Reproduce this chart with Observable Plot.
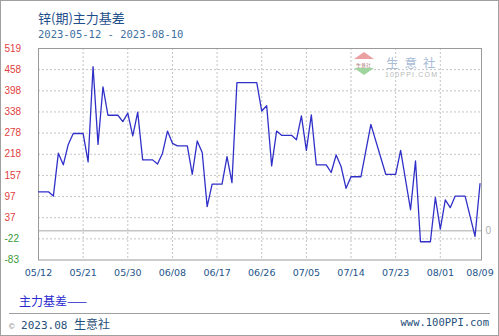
<!DOCTYPE html>
<html>
<head>
<meta charset="utf-8">
<script src="https://cdn.jsdelivr.net/npm/d3@7"></script>
<script src="https://cdn.jsdelivr.net/npm/@observablehq/plot@0.6"></script>
<style>
  html, body { margin: 0; padding: 0; background: #fff; }
  #wrap { position: relative; width: 499px; height: 336px; overflow: hidden; background: #fff; }
  #border { position: absolute; left: 0; top: 0; width: 497px; height: 334px; border: 1px solid #a0a0a0; pointer-events: none; z-index: 5; }
  .abs { position: absolute; white-space: nowrap; line-height: 1; }
  #title { left: 38px; top: 8px; font: 13px "Noto Sans CJK SC", sans-serif; color: #1f4f8a; }
  #subtitle { left: 38px; top: 28px; font: 10.5px "DejaVu Sans Mono", monospace; color: #3d6fa0; }
  #chart { position: absolute; left: 0; top: 40px; }
  #legend { left: 19px; top: 292px; font: 12px "Noto Sans CJK SC", sans-serif; color: #2a2ad0; }
  #rule { position: absolute; left: 9px; top: 313px; width: 481px; height: 1px; background: #a0a0a0; }
  #copy { left: 9px; top: 315px; font: 11px "DejaVu Sans Mono", monospace; color: #1f4f7a; }
  #copy .c { color: #999; font-size: 9px; }
  #copy .cn { font-family: "Noto Sans CJK SC", sans-serif; font-size: 12px; }
  #site { right: 10px; top: 316px; font: 10.5px "DejaVu Sans Mono", monospace; color: #1f4f7a; }
  .tri-up { position: absolute; left: 354px; top: 52px; width: 0; height: 0; border-left: 10px solid transparent; border-right: 10px solid transparent; border-bottom: 7px solid #eaa0a0; }
  .tri-dn { position: absolute; left: 354px; top: 68px; width: 0; height: 0; border-left: 10px solid transparent; border-right: 10px solid transparent; border-top: 7px solid #9fd49f; }
  #wm-small { left: 356px; top: 61px; font: 5px "Noto Sans CJK SC", sans-serif; color: #b08080; }
  #wm-big { left: 386px; top: 53px; font: 12.5px "Noto Sans CJK SC", sans-serif; color: #a9bcd6; letter-spacing: 6px; }
  #wm-url { left: 385px; top: 71px; font: 7px "Liberation Sans", sans-serif; color: #b8b8b8; letter-spacing: 1.2px; }
</style>
</head>
<body>
<div id="wrap">
  <div class="abs" id="title">锌(期)主力基差</div>
  <div class="abs" id="subtitle">2023-05-12 - 2023-08-10</div>
  <div id="chart"></div>
  <div class="tri-up"></div>
  <div class="abs" id="wm-small">生意社</div>
  <div class="tri-dn"></div>
  <div class="abs" id="wm-big">生意社</div>
  <div class="abs" id="wm-url">100PPI.COM</div>
  <div class="abs" id="legend">主力基差——</div>
  <div id="rule"></div>
  <div class="abs" id="copy"><span class="c">©</span> 2023.08 <span class="cn">生意社</span></div>
  <div class="abs" id="site">www.100PPI.com</div>
  <div id="border"></div>
</div>
<script>
// Observed vertices of the basis line (date, value)
const dates = [
  "2023-05-12","2023-05-14","2023-05-15","2023-05-16","2023-05-17","2023-05-18","2023-05-19","2023-05-21",
  "2023-05-22","2023-05-23","2023-05-24","2023-05-25","2023-05-26","2023-05-28",
  "2023-05-29","2023-05-30","2023-05-31","2023-06-01","2023-06-02","2023-06-04",
  "2023-06-05","2023-06-06","2023-06-07","2023-06-08","2023-06-09","2023-06-11",
  "2023-06-12","2023-06-13","2023-06-14","2023-06-15","2023-06-16","2023-06-18",
  "2023-06-19","2023-06-20","2023-06-21","2023-06-25",
  "2023-06-26","2023-06-27","2023-06-28","2023-06-29","2023-06-30","2023-07-02",
  "2023-07-03","2023-07-04","2023-07-05","2023-07-06","2023-07-07","2023-07-09",
  "2023-07-10","2023-07-11","2023-07-12","2023-07-13","2023-07-14","2023-07-16",
  "2023-07-18","2023-07-21","2023-07-23",
  "2023-07-24","2023-07-26","2023-07-27","2023-07-28","2023-07-30",
  "2023-07-31","2023-08-01","2023-08-02","2023-08-03","2023-08-04","2023-08-06",
  "2023-08-08","2023-08-09"
];
const values = [
  111, 111, 99, 221, 188, 246, 277, 277,
  196, 467, 246, 410, 329, 329,
  311, 335, 270, 338, 202, 202,
  190, 221, 284, 249, 242, 242,
  161, 256, 223, 69, 133, 133,
  211, 137, 422, 422,
  341, 356, 185, 284, 272, 272,
  259, 327, 229, 330, 188, 188,
  166, 216, 183, 121, 154, 154,
  303, 161, 161,
  229, 60, 199, -31, -31,
  95, 5, 88, 66, 99, 99,
  -16, 134
];
const xTickLabels = ["05/12","05/21","05/30","06/08","06/17","06/26","07/05","07/14","07/23","08/01","08/09"];
const yTickLabels = ["-83","-22","37","97","157","218","278","338","398","458","519"];
const yMin = -83, yMax = 519;

const parse = d3.utcParse("%Y-%m-%d");
const data = dates.map((d, i) => ({date: parse(d), value: values[i]}));
const xTicks = xTickLabels.map(s => parse("2023-" + s.replace("/", "-")));
const yTicks = yTickLabels.map((s, i) => yMin + i * (yMax - yMin) / (yTickLabels.length - 1));

const grid = {stroke: "#c4c4c4", strokeOpacity: 1, strokeDasharray: "2,2", strokeWidth: 1};

const chart = Plot.plot({
  width: 499,
  height: 245,
  marginTop: 8,
  marginBottom: 25.5,
  marginLeft: 38,
  marginRight: 18,
  style: {background: "transparent", fontFamily: "'Liberation Sans', Arial, sans-serif", fontSize: "10px", overflow: "visible"},
  x: {type: "utc", domain: [xTicks[0], xTicks[xTicks.length - 1]], insetRight: 1.5, axis: null},
  y: {domain: [yMin, yMax], axis: null},
  marks: [
    Plot.ruleX(xTicks.slice(1, -1), grid),
    Plot.ruleY(yTicks.slice(1, -1), grid),
    Plot.ruleY([0], {stroke: "#a8a8a8", strokeWidth: 1}),
    Plot.frame({stroke: "#9a9a9a"}),
    Plot.line(data, {x: "date", y: "value", stroke: "#3030c8", strokeWidth: 1.3}),
    Plot.text(yTicks, {
      y: d => d,
      text: (d, i) => yTickLabels[i],
      frameAnchor: "left",
      dx: -34,
      textAnchor: "start",
      fill: (d, i) => (+yTickLabels[i] < 0 ? "#3a9a3a" : "#e0403f"),
      fontSize: 10
    }),
    Plot.text(xTicks, {
      x: d => d,
      text: (d, i) => xTickLabels[i],
      frameAnchor: "bottom",
      dy: 16,
      fill: "#23548a",
      fontFamily: "'DejaVu Sans', sans-serif",
      fontSize: 9.5
    }),
    Plot.text([0], {
      y: d => d,
      text: () => "0",
      frameAnchor: "right",
      dx: 4,
      textAnchor: "start",
      fill: "#aaaaaa",
      fontSize: 10
    })
  ]
});
document.getElementById("chart").appendChild(chart);
</script>
</body>
</html>
